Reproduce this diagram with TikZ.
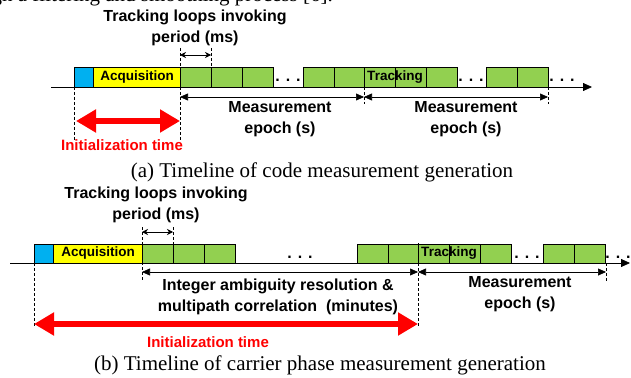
\documentclass[tikz,border=0pt]{standalone}
\usepackage{fontspec}
\setmainfont{Liberation Serif}
\setsansfont{Liberation Sans}
\usetikzlibrary{arrows.meta,positioning}
\definecolor{acqblue}{HTML}{00B0F0}
\definecolor{acqyellow}{HTML}{FFFF00}
\definecolor{trkgreen}{HTML}{92D050}
\definecolor{initred}{HTML}{FF0000}

\begin{document}
\begin{tikzpicture}[
x=1pt, y=-1pt,
slotA/.style={rectangle, draw, fill=trkgreen, minimum width=31pt, minimum height=20pt, inner sep=0pt, anchor=south west, font=\sffamily\bfseries\fontsize{13.5}{15}\selectfont},
slotB/.style={slotA, minimum height=19pt},
boxtext/.style={inner sep=0pt, font=\sffamily\bfseries\fontsize{13.5}{15}\selectfont},
label/.style={align=center, inner sep=0pt, font=\sffamily\bfseries\fontsize{16}{21}\selectfont},
redlabel/.style={inner sep=0pt, text=initred, font=\sffamily\bfseries\fontsize{15}{18}\selectfont},
dots/.style={inner sep=0pt, anchor=base, font=\sffamily\bfseries\fontsize{16}{20}\selectfont},
caption/.style={inner sep=0pt, font=\rmfamily\fontsize{21}{25}\selectfont},
axis/.style={-{Triangle[length=9pt,width=8pt]}, line width=0.8pt},
guide/.style={dashed, dash pattern=on 3pt off 2pt, line width=0.5pt},
period/.style={{Stealth[length=6pt,width=6pt]}-{Stealth[length=6pt,width=6pt]}, line width=0.6pt},
span/.style={{Triangle[length=8pt,width=7pt]}-{Triangle[length=8pt,width=7pt]}, line width=0.6pt},
initarrow/.style={{Triangle[length=20pt,width=22pt]}-{Triangle[length=20pt,width=22pt]}, line width=6pt, initred}
]
\useasboundingbox (0,0) rectangle (631,377);

% end of the text line above the figure
\begin{scope}
\clip (0,0) rectangle (631,377);
\node[caption, anchor=base east] (prevline) at (333,2) {through a filtering and smoothing process [6].};
\end{scope}

% (a) code measurement timeline
\coordinate (a-start) at (51,87);
\coordinate (a-end) at (592,87);
\draw[axis] (a-start) -- (a-end);

\node[slotA, fill=acqblue, minimum width=19pt] (a-init) at (74,87) {};
\node[slotA, fill=acqyellow, minimum width=87pt, right=0pt of a-init] (a-acq) {Acquisition};
\foreach \x [count=\i] in {180,211,242,303,334,364,395,426,486,517}
  \node[slotA] (a-trk\i) at (\x,87) {};
\node[boxtext] (a-trklabel) at (a-trk7.west) {Tracking};
\node[dots] (a-dots1) at (288,82) {. . .};
\node[dots] (a-dots2) at (471,82) {. . .};
\node[dots] (a-dots3) at (562,82) {. . .};

\draw[guide] (180,48) -- (180,67);
\draw[guide] (211,48) -- (211,67);
\draw[guide] (180,87) -- (180,140);
\draw[guide] (74,87) -- (74,140);
\draw[guide] (364,87) -- (364,104);
\draw[guide] (548,87) -- (548,104);

\coordinate (a-p0) at (180,55);
\coordinate (a-p1) at (211,55);
\draw[period] (a-p0) -- (a-p1);
\node[label] (a-periodlabel) at (195,28) {Tracking loops invoking\\period (ms)};

\coordinate (a-m0) at (180,97);
\coordinate (a-m1) at (364,97);
\coordinate (a-m2) at (548,97);
\draw[span] (a-m0) -- (a-m1);
\draw[span] (a-m1) -- (a-m2);
\node[label] (a-epoch1) at (280,119) {Measurement\\epoch (s)};
\node[label] (a-epoch2) at (466,119) {Measurement\\epoch (s)};

\coordinate (a-i0) at (76,121);
\coordinate (a-i1) at (180,121);
\draw[initarrow] (a-i0) -- (a-i1);
\node[redlabel] (a-initlabel) at (122,145) {Initialization time};

\node[caption] (a-caption) at (322,172) {(a) Timeline of code measurement generation};

% (b) carrier phase measurement timeline
\coordinate (b-start) at (10,263);
\coordinate (b-end) at (630,263);
\draw[axis] (b-start) -- (b-end);

\node[slotB, fill=acqblue, minimum width=19pt] (b-init) at (34,263) {};
\node[slotB, fill=acqyellow, minimum width=89pt, right=0pt of b-init] (b-acq) {Acquisition};
\foreach \x [count=\i] in {142,173,204,357,388,418,449,480,543,574}
  \node[slotB] (b-trk\i) at (\x,263) {};
\node[boxtext] (b-trklabel) at (b-trk7.west) {Tracking};
\node[dots] (b-dots1) at (300,258) {. . .};
\node[dots] (b-dots2) at (527,258) {. . .};
\node[dots] (b-dots3) at (618,258) {. . .};

\draw[guide] (142,227) -- (142,280);
\draw[guide] (173,227) -- (173,244);
\draw[guide] (418,243) -- (418,327);
\draw[guide] (606,263) -- (606,282);
\draw[guide] (34,263) -- (34,327);

\coordinate (b-p0) at (142,232);
\coordinate (b-p1) at (173,232);
\draw[period] (b-p0) -- (b-p1);
\node[label] (b-periodlabel) at (156,205) {Tracking loops invoking\\period (ms)};

\coordinate (b-m0) at (142,272);
\coordinate (b-m1) at (418,272);
\coordinate (b-m2) at (606,272);
\draw[span] (b-m0) -- (b-m1);
\draw[span] (b-m1) -- (b-m2);
\node[label] (b-ambiguity) at (278,297) {Integer ambiguity resolution \&\\multipath correlation\ \ (minutes)};
\node[label] (b-epoch) at (520,294) {Measurement\\epoch (s)};

\coordinate (b-i0) at (34,324);
\coordinate (b-i1) at (418,324);
\draw[initarrow] (b-i0) -- (b-i1);
\node[redlabel] (b-initlabel) at (208,342) {Initialization time};

\node[caption] (b-caption) at (320,365) {(b) Timeline of carrier phase measurement generation};
\end{tikzpicture}
\end{document}
